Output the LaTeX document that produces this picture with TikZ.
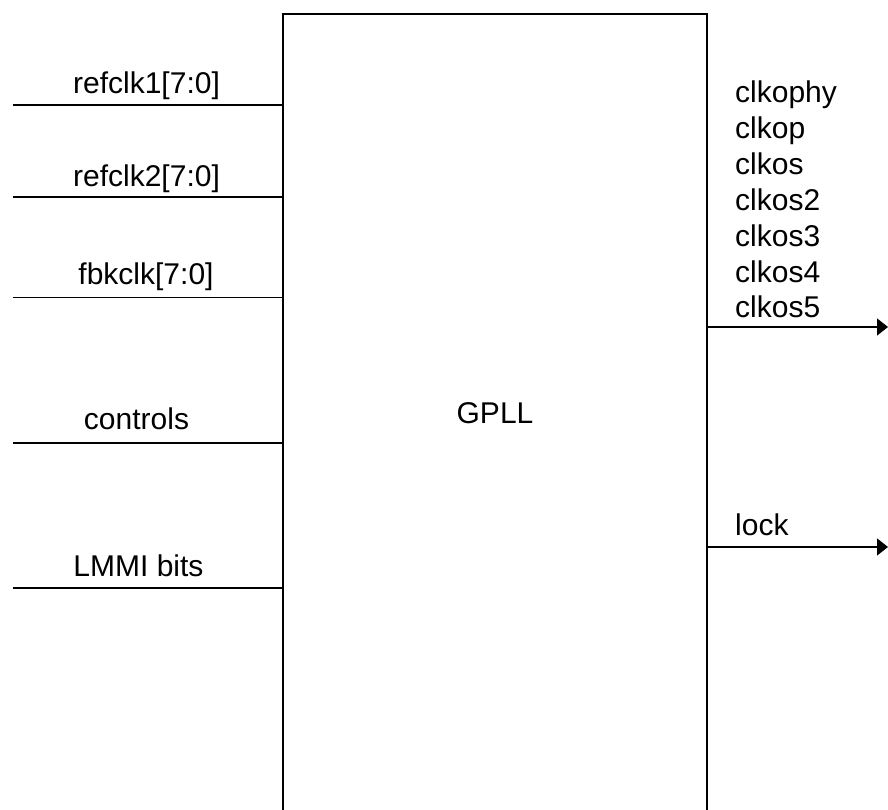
\documentclass[tikz,border=0pt]{standalone}
\usepackage{fontspec}
\setmainfont{Liberation Sans}
\usetikzlibrary{arrows.meta}
\begin{document}
\begin{tikzpicture}[x=1pt,y=-1pt,
  every node/.style={font=\fontsize{30}{34}\selectfont},
  wire/.style={line width=1.4pt,black},
  lbl/.style={inner sep=0pt,anchor=base},
  olbl/.style={inner sep=0pt,anchor=base west},
  outarrow/.style={wire,-{Triangle[length=11pt,width=17pt]}}]
\useasboundingbox (0,0) rectangle (888,810);
\clip (0,0) rectangle (888,810);
\node[draw,line width=1.4pt,rectangle,minimum width=424pt,minimum height=799pt,inner sep=0pt] (gpll) at (495,413.5) {GPLL};
% inputs
\coordinate (i1) at (12.5,105);
\coordinate (i2) at (12.5,197);
\coordinate (i3) at (12.5,297.5);
\coordinate (i4) at (12.5,443);
\coordinate (i5) at (12.5,588);
\foreach \c in {i1,i2,i3,i4,i5}{\draw[wire] (\c) -- (\c -| gpll.west);}
\node[lbl] (l1) at (146.5,94) {refclk1[7:0]};
\node[lbl] (l2) at (146.5,187) {refclk2[7:0]};
\node[lbl] (l3) at (146,284) {fbkclk[7:0]};
\node[lbl] (l4) at (136.5,429) {controls};
\node[lbl] (l5) at (138.5,576) {LMMI bits};
% outputs
\coordinate (o1) at (888,327);
\coordinate (o2) at (888,547);
\draw[outarrow] (o1 -| gpll.east) -- (o1);
\draw[outarrow] (o2 -| gpll.east) -- (o2);
\foreach \t [count=\k from 0] in {clkophy,clkop,clkos,clkos2,clkos3,clkos4,clkos5}{
  \node[olbl] (r\k) at (735,103+\k*35.8) {\t};}
\node[olbl] (rl) at (735,535) {lock};
\end{tikzpicture}
\end{document}
